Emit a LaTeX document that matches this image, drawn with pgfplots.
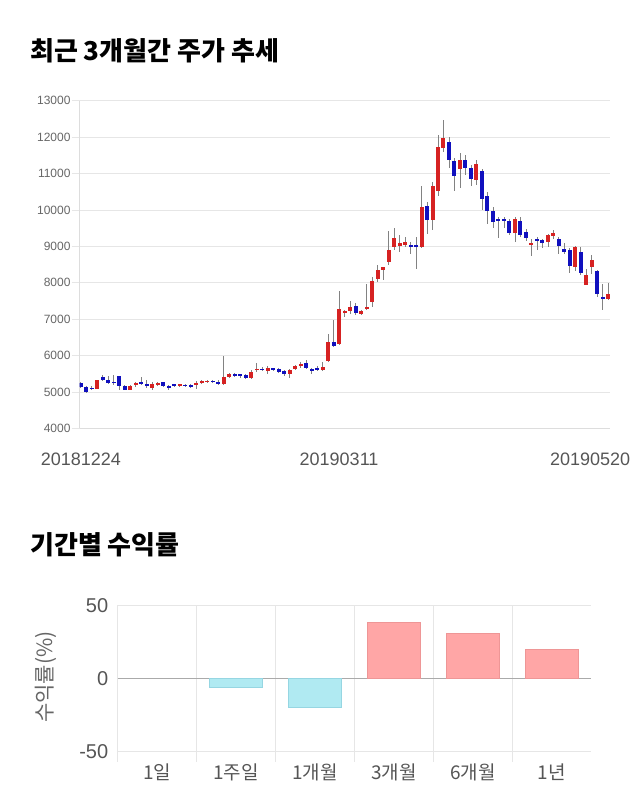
\documentclass[border=0pt]{standalone}
\usepackage{fontspec}
\usepackage{pgfplots}
\usepackage{pgfplotstable}
\pgfplotsset{compat=1.18}
\setmainfont{Liberation Sans}
\newfontfamily\kr{Noto Sans CJK KR}
\definecolor{gridgray}{RGB}{230,230,230}
\definecolor{axgray}{RGB}{221,221,221}
\definecolor{tickgray}{RGB}{102,102,102}
\definecolor{labgray}{RGB}{85,85,85}
\definecolor{zerogray}{RGB}{170,170,170}
\definecolor{wickgray}{RGB}{130,130,130}
\definecolor{upred}{RGB}{214,34,34}
\definecolor{downblue}{RGB}{16,16,190}
\definecolor{posfill}{RGB}{255,166,166}
\definecolor{posdraw}{RGB}{238,150,150}
\definecolor{negfill}{RGB}{176,234,242}
\definecolor{negdraw}{RGB}{150,214,226}

\pgfplotstableread{
x o c h l
3 5090 5320 5340 5070
9 5060 5160 5180 5050
10 5200 5230 5280 5140
13 5120 5210 5280 5060
14 5190 5250 5280 5160
18 5170 5200 5220 5140
21 5180 5250 5300 5090
22 5260 5280 5320 5230
23 5280 5300 5320 5250
26 5230 5410 6000 5180
27 5410 5500 5520 5390
31 5390 5550 5600 5360
32 5600 5640 5800 5550
34 5580 5660 5700 5500
38 5480 5610 5630 5370
39 5630 5710 5730 5600
40 5710 5780 5820 5670
44 5610 5690 5820 5580
45 5850 6360 6580 5820
47 6310 7270 7780 6280
48 7180 7220 7260 7060
49 7230 7320 7500 7150
51 7130 7230 7260 7100
52 7270 7320 7960 7240
53 7480 8050 8160 7340
54 8100 8340 8480 8020
55 8360 8420 8430 8070
56 8560 8890 9410 8480
57 8970 9240 9510 8890
58 9020 9090 9300 8850
59 9040 9130 9260 8980
62 8970 10070 10670 8940
64 9720 10670 10770 9440
65 10520 11720 12050 10380
66 11710 11970 12460 11590
69 11110 11370 11570 10610
72 10810 11270 11360 10680
79 9370 9740 9810 9120
82 9030 9090 9190 8740
85 9120 9300 9350 8980
86 9290 9360 9460 9210
90 8420 8970 9000 8320
92 7950 8220 8390 7930
93 8420 8620 8750 8250
96 7560 7700 7990 7520
}\upTable

\pgfplotstableread{
x o c h l
0 5250 5140 5280 5120
1 5140 5000 5160 4980
2 5120 5070 5160 5050
4 5410 5320 5460 5290
5 5320 5250 5430 5230
6 5280 5250 5460 5180
7 5430 5160 5450 5060
8 5160 5060 5180 5050
11 5280 5230 5410 5200
12 5230 5160 5320 5120
15 5270 5160 5280 5140
16 5160 5120 5200 5060
17 5200 5170 5230 5140
19 5190 5170 5230 5130
20 5170 5150 5210 5100
24 5300 5280 5340 5250
25 5280 5230 5320 5180
28 5500 5440 5520 5410
29 5480 5430 5500 5390
30 5470 5370 5490 5350
33 5630 5610 5680 5580
35 5640 5620 5670 5580
36 5630 5550 5670 5520
37 5570 5480 5600 5450
41 5790 5650 5870 5620
42 5630 5600 5670 5490
43 5670 5610 5700 5580
46 6360 6260 6970 6240
50 7360 7180 7430 7110
60 9040 9000 9120 8800
61 9020 8990 9260 8370
63 10110 9720 10220 9330
67 11870 11370 12010 11140
68 11340 10920 11420 10520
70 11370 11160 11500 10950
71 11160 10850 11230 10650
73 11070 10310 11130 10010
74 10380 9970 10490 9620
75 9960 9680 10080 9490
76 9740 9690 9810 9240
77 9740 9720 9810 9490
78 9700 9370 9760 9300
80 9690 9320 9810 9260
81 9400 9240 9470 9150
83 9210 9160 9260 8890
84 9170 9100 9210 8940
87 9200 9010 9260 8800
88 8930 8850 9080 8800
89 8890 8460 8940 8270
91 8830 8270 8980 8210
94 8320 7680 8360 7610
95 7590 7560 7960 7240
}\downTable

\begin{document}
\begin{tikzpicture}
\path[use as bounding box] (0,0) rectangle (640pt,-810pt);

\node[anchor=base west, inner sep=0pt, font=\kr\bfseries\fontsize{26}{26}\selectfont] at (30pt,-61pt) {최근 3개월간 주가 추세};
\node[anchor=base west, inner sep=0pt, font=\kr\bfseries\fontsize{26}{26}\selectfont] at (30pt,-554pt) {기간별 수익률};

\begin{axis}[
  at={(79.7pt,-428.3pt)}, anchor=south west,
  scale only axis, width=530.3pt, height=327.6pt,
  xmin=-0.2, xmax=96.3, ymin=4000, ymax=13000,
  axis lines*=left,
  axis line style={draw=axgray, line width=0.8pt},
  ytick={4000,5000,...,13000},
  scaled y ticks=false,
  ymajorgrids, major grid style={draw=gridgray, line width=0.8pt},
  tick align=outside, major tick length=8pt,
  y tick style={draw=gridgray, line width=0.8pt},
  x tick style={draw=none},
  /pgf/number format/1000 sep={},
  /pgf/number format/assume math mode=true,
  yticklabel style={font=\fontsize{12}{12}\selectfont, text=tickgray, inner sep=1pt},
  xtick={0,47,92.7},
  xticklabels={20181224,20190311,20190520},
  xticklabel style={font=\fontsize{18}{18}\selectfont, text=labgray, yshift=-13pt},
  clip=true,
]
\addplot[draw=none, mark=none, forget plot,
  error bars/.cd, y dir=both, y explicit, error mark=none,
  error bar style={draw=wickgray, line width=0.8pt, solid}]
  table[x=x, y expr={(\thisrow{h}+\thisrow{l})/2}, y error expr={(\thisrow{h}-\thisrow{l})/2}] {\upTable};
\addplot[draw=none, mark=none, forget plot,
  error bars/.cd, y dir=both, y explicit, error mark=none,
  error bar style={draw=wickgray, line width=0.8pt, solid}]
  table[x=x, y expr={(\thisrow{h}+\thisrow{l})/2}, y error expr={(\thisrow{h}-\thisrow{l})/2}] {\downTable};
\addplot[draw=none, mark=none, forget plot,
  error bars/.cd, y dir=both, y explicit, error mark=none,
  error bar style={draw=upred, line width=4pt, solid}]
  table[x=x, y expr={(\thisrow{o}+\thisrow{c})/2}, y error expr={max(abs(\thisrow{c}-\thisrow{o})/2,20)}] {\upTable};
\addplot[draw=none, mark=none, forget plot,
  error bars/.cd, y dir=both, y explicit, error mark=none,
  error bar style={draw=downblue, line width=4pt, solid}]
  table[x=x, y expr={(\thisrow{o}+\thisrow{c})/2}, y error expr={max(abs(\thisrow{c}-\thisrow{o})/2,20)}] {\downTable};
\end{axis}

\begin{axis}[
  at={(117.7pt,-751.7pt)}, anchor=south west,
  scale only axis, width=473.6pt, height=146.4pt,
  xmin=-0.5, xmax=5.5, ymin=-50, ymax=50,
  ybar, bar width=53pt,
  axis line style={draw=none},
  tick pos=left,
  xtick={0,1,2,3,4,5},
  xticklabels={1일,1주일,1개월,3개월,6개월,1년},
  minor xtick={-0.5,0.5,1.5,2.5,3.5,4.5},
  xminorgrids, minor x grid style={draw=gridgray, line width=0.8pt},
  tick align=outside, major tick length=0pt, minor tick length=10pt,
  minor x tick style={draw=gridgray, line width=0.8pt},
  ytick={-50,50}, ymajorgrids,
  major y grid style={draw=gridgray, line width=0.8pt},
  extra y ticks={0},
  extra y tick style={major y grid style={draw=zerogray, line width=0.9pt}},
  /pgf/number format/assume math mode=true,
  yticklabel style={font=\fontsize{20}{20}\selectfont, text=labgray, xshift=-6pt},
  xticklabel style={font=\kr\fontsize{19}{19}\selectfont, text=labgray, yshift=-9pt},
  ylabel={\kr 수익률(\%)},
  ylabel style={at={(axis description cs:-0.1516,0.51)}, anchor=center, font=\fontsize{21}{21}\selectfont, text=tickgray},
]
\addplot[draw=none, fill=none, bar shift=0pt] coordinates {(0,0)};
\addplot[fill=negfill, draw=negdraw, line width=0.8pt, bar shift=0pt] coordinates {(1,-5.8) (2,-19.4)};
\addplot[fill=posfill, draw=posdraw, line width=0.8pt, bar shift=0pt] coordinates {(3,38.6) (4,30.7) (5,19.8)};
\end{axis}
\end{tikzpicture}
\end{document}
